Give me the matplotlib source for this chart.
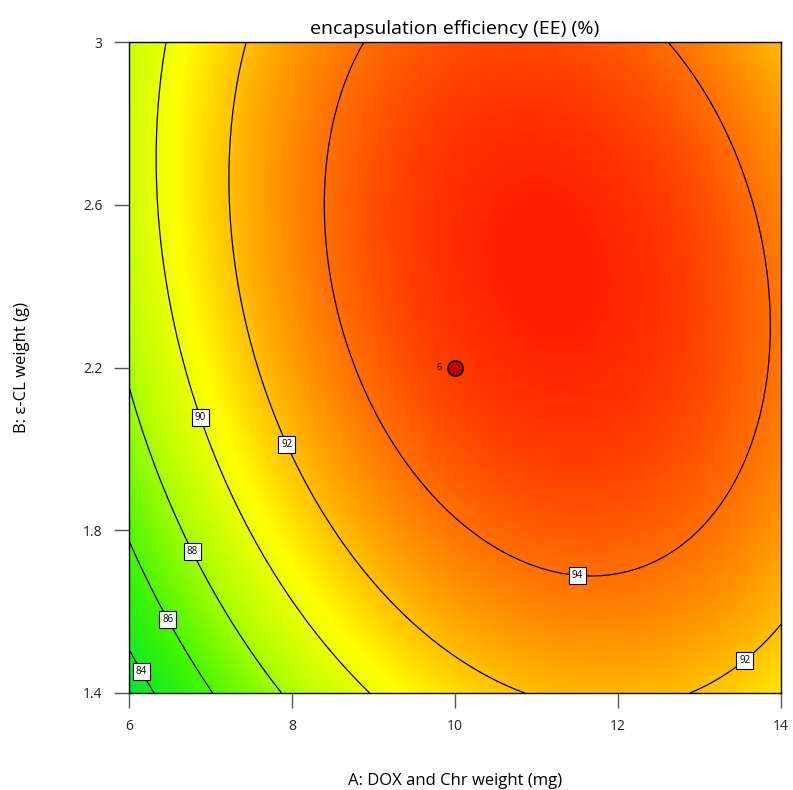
import numpy as np
import matplotlib.pyplot as plt
from matplotlib.colors import LinearSegmentedColormap

# Quadratic response model for EE (%) in coded units
# a = (A - 10) / 4 , b = (B - 2.2) / 0.8
b0 = 95.26
bA = 2.80
bB = 1.72
bAB = -1.20
bAA = -4.28
bBB = -2.20

a_range = [6, 14]
b_range = [1.4, 3.0]
levels = [84, 86, 88, 90, 92, 94]
label_pos = [(6.13, 1.45), (6.48, 1.58), (6.79, 1.75), (6.91, 2.08),
             (7.98, 2.015), (11.51, 1.715), (13.5, 1.494)]
design_pt = (10, 2.2)
design_label = "6"

xticks = [6, 8, 10, 12, 14]
yticks = [1.4, 1.8, 2.2, 2.6, 3.0]
ytick_labels = ["1.4", "1.8", "2.2", "2.6", "3"]

plt.rcParams['font.family'] = ['Open Sans', 'DejaVu Sans']

A = np.linspace(a_range[0], a_range[1], 400)
B = np.linspace(b_range[0], b_range[1], 400)
AA, BB = np.meshgrid(A, B)
ca = (AA - 10) / 4
cb = (BB - 2.2) / 0.8
EE = b0 + bA*ca + bB*cb + bAB*ca*cb + bAA*ca**2 + bBB*cb**2

cmap = LinearSegmentedColormap.from_list("de", [
    (0.00, (0.00, 0.90, 0.20)),
    (0.20, (0.25, 0.96, 0.00)),
    (0.42, (0.72, 1.00, 0.00)),
    (0.58, (1.00, 1.00, 0.00)),
    (0.72, (1.00, 0.70, 0.00)),
    (0.86, (1.00, 0.42, 0.00)),
    (1.00, (1.00, 0.12, 0.00)),
])

fig = plt.figure(figsize=(7.93, 7.90), dpi=100)
ax = fig.add_axes([0.1627, 0.1228, 0.8222, 0.824])

ax.imshow(EE, origin='lower', extent=[a_range[0], a_range[1], b_range[0], b_range[1]],
          aspect='auto', cmap=cmap, interpolation='bilinear')
cs = ax.contour(AA, BB, EE, levels=levels, colors='black', linewidths=0.9)
txts = ax.clabel(cs, manual=label_pos, inline=False, fmt='%d', fontsize=7)
for t in txts:
    t.set_bbox(dict(facecolor='white', edgecolor='black', boxstyle='square,pad=0.3', linewidth=0.8))
    t.set_rotation(0)

ax.scatter([design_pt[0]], [design_pt[1]], s=120, color='#c00000', edgecolor='black', linewidth=1.2, zorder=5)
ax.text(design_pt[0] - 0.16, design_pt[1], design_label, fontsize=6.5, ha='right', va='center', zorder=5)

ax.set_xlim(a_range)
ax.set_ylim(b_range)
ax.set_xticks(xticks)
ax.set_yticks(yticks)
ax.set_yticklabels(ytick_labels)
ax.tick_params(direction='out', length=11, width=1, color='#555555', labelsize=10, labelcolor='#222222', pad=8)

ax.set_title("encapsulation efficiency (EE) (%)", fontsize=14, pad=6)
ax.set_xlabel("A: DOX and Chr weight (mg)", fontsize=12, labelpad=28)
ax.set_ylabel("B: ε-CL weight (g)", fontsize=12, labelpad=38)
for s in ax.spines.values():
    s.set_linewidth(1)

fig.savefig("out.png", dpi=100)
